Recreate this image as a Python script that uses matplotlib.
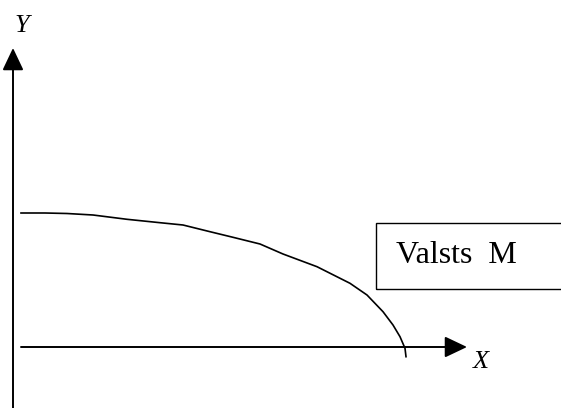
import matplotlib
matplotlib.use("Agg")
import matplotlib.pyplot as plt
from matplotlib.patches import Rectangle

# Curve values (x along X axis, y height above X axis)
curve_x = [8, 32, 54, 80, 114, 147, 170, 197, 220, 247, 270, 304, 337, 354, 370, 380, 387, 392, 393]
curve_y = [134, 134, 133.5, 132, 127.7, 124.3, 122, 115.3, 109.7, 103, 93, 80.3, 63.7, 52, 35.3, 22, 10.3, -1.3, -9.7]

box_label = "Valsts  M"
x_label = "X"
y_label = "Y"

fig = plt.figure(figsize=(5.61, 4.08), dpi=100)
ax = fig.add_axes([0, 0, 1, 1])
ax.set_xlim(-13, 548)
ax.set_ylim(-61, 347)
ax.axis("off")

arrow_style = "-|>,head_length=1.37,head_width=0.65"
# Y axis
ax.annotate("", xy=(0, 299), xytext=(0, -61),
            arrowprops=dict(arrowstyle=arrow_style, lw=1.4, color="black",
                            shrinkA=0, shrinkB=0, mutation_scale=10))
# X axis
ax.annotate("", xy=(454, 0), xytext=(8, 0),
            arrowprops=dict(arrowstyle=arrow_style, lw=1.4, color="black",
                            shrinkA=0, shrinkB=0, mutation_scale=10))

ax.plot(curve_x, curve_y, color="black", lw=1.2, solid_joinstyle="round")

ax.add_patch(Rectangle((363, 58), 200, 66, fill=False, edgecolor="black", lw=1.0))
ax.text(383, 84, box_label, fontsize=23, family="Liberation Serif",
        ha="left", va="baseline")

ax.text(460, -21, x_label, fontsize=19, family="Liberation Serif", style="italic",
        ha="left", va="baseline")
ax.text(2, 315, y_label, fontsize=19, family="Liberation Serif", style="italic",
        ha="left", va="baseline")

fig.savefig("out.png", dpi=100)
